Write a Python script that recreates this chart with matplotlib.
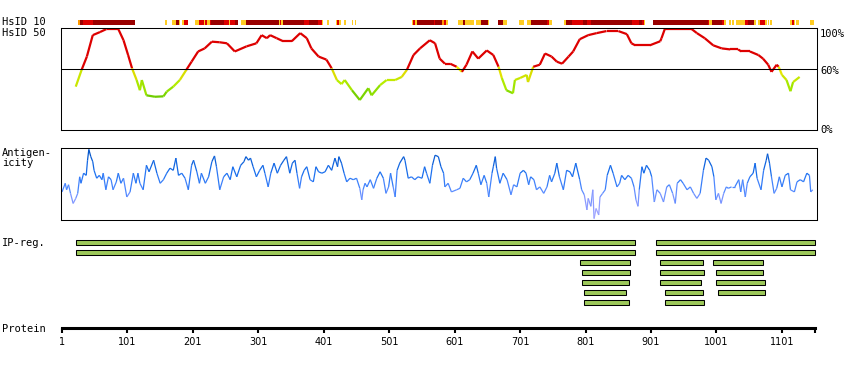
import matplotlib
matplotlib.use("Agg")
import matplotlib.pyplot as plt
import numpy as np
from matplotlib.collections import LineCollection
from matplotlib.colors import LinearSegmentedColormap

# ---------------- data ----------------
protein_length = 1152
tick_residues = [1, 101, 201, 301, 401, 501, 601, 701, 801, 901, 1001, 1101]

# HsID 10 conservation bar: segments (start, end, level) level 0=orange 1=gold 2=red 3=dark red
hs_start = [26, 28, 33, 48, 112, 158, 169, 175, 179, 185, 188, 204, 210, 218, 220, 223, 227, 229, 249, 256, 258, 265, 274, 278, 282,
            291, 332, 334, 336, 338, 370, 379, 392, 398, 406, 420, 421, 424, 432, 444, 448,
            536, 538, 541, 543, 569, 571,
            582, 584, 587, 606, 614, 617, 634, 641, 652, 667, 675, 699, 711, 718, 742, 745, 768, 771, 780, 786, 797, 803, 810,
            872, 882, 887, 890, 904, 988, 990, 994, 1009, 1012, 1020, 1025, 1031, 1044, 1049, 1059, 1064, 1067, 1075, 1080, 1083, 1085,
            1114, 1116, 1119, 1122, 1144]
hs_end = [28, 33, 48, 112, 113, 161, 175, 179, 182, 188, 193, 210, 218, 220, 223, 227, 229, 249, 256, 258, 265, 270, 277, 282, 291,
          332, 334, 336, 338, 370, 379, 392, 398, 400, 409, 421, 424, 427, 435, 446, 450,
          538, 541, 543, 569, 571, 582,
          584, 587, 590, 614, 617, 631, 641, 652, 654, 675, 681, 707, 718, 742, 745, 750, 771, 780, 786, 797, 803, 810, 872,
          882, 887, 890, 892, 988, 990, 994, 1009, 1012, 1016, 1023, 1028, 1044, 1049, 1059, 1062, 1067, 1075, 1078, 1081, 1084, 1086,
          1116, 1119, 1121, 1127, 1150]
hs_level = [0, 3, 2, 3, 0, 1, 1, 3, 1, 1, 2, 1, 2, 1, 2, 1, 2, 3, 2, 1, 2, 3, 1, 1, 3,
            3, 1, 2, 1, 3, 2, 3, 2, 1, 1, 1, 2, 1, 1, 1, 1,
            1, 2, 1, 3, 2, 3,
            0, 2, 1, 1, 3, 1, 1, 3, 1, 3, 1, 1, 1, 3, 2, 1, 1, 3, 2, 2, 3, 2, 3,
            2, 3, 2, 1, 3, 2, 1, 3, 2, 1, 1, 1, 1, 2, 3, 1, 1, 2, 1, 1, 1, 1,
            1, 2, 1, 1, 1]

# HsID 50 identity curve (residue, % identity)
id_res = [22, 31, 39, 48, 59, 69, 87, 95, 102, 108, 115, 120, 123, 130, 143, 156, 161, 171, 181, 191, 199, 209, 219, 230, 242,
          253, 265, 283, 298, 306, 314, 319, 329, 339, 352, 365, 375, 382, 393, 405, 413, 421, 428, 433, 444, 456, 469, 474,
          487, 497, 510, 520, 528, 538, 548, 563, 571, 578, 586, 594, 604, 612, 619, 628, 637, 650, 660, 668, 673, 680, 690,
          693, 701, 711, 713, 721, 731, 739, 749, 757, 765, 775, 782, 792, 805, 818, 833, 851, 864, 871, 877, 899, 915, 917,
          922, 963, 971, 983, 996, 1009, 1022, 1034, 1039, 1052, 1065, 1072, 1080, 1085, 1093, 1096, 1101, 1108, 1114, 1118, 1128]
id_val = [42.5, 59, 72, 93, 96, 99, 99, 88, 73.5, 60.5, 49, 39, 49, 34, 32.6, 33, 37.6, 42.5, 49, 59, 67, 77, 80, 86.6, 86,
          85, 77, 82, 85, 93, 90, 93, 90, 87, 87, 95, 90, 80, 72, 69, 60.5, 49, 45, 49, 39, 29.4, 41, 34,
          44, 49, 49, 52, 59, 73.5, 80, 88, 85, 70, 65, 65, 62, 57, 64, 77, 70, 78, 73.5, 62, 51, 39, 36,
          49, 51, 54, 47, 62, 64, 75, 72, 67, 65, 72, 77, 89, 93, 95, 97, 97, 94, 85, 83, 83, 87, 90,
          99, 99, 95, 90, 83, 80, 79, 79, 77, 77, 73.5, 70, 64, 57, 64, 62, 54, 49, 38, 47, 52]

# Antigenicity (residue, score 0-100)
ag_res = [1, 6, 8, 11, 14, 18, 22, 25, 28, 30, 34, 38, 40, 42, 45, 48, 50, 54, 58, 62, 64, 68, 72, 76, 79, 84, 87, 91, 95,
          100, 105, 110, 114, 117, 120, 125, 130, 134, 141, 146, 151, 156, 161, 166, 171, 175, 179, 184, 189, 194, 199, 202,
          207, 211, 214, 220, 225, 230, 234, 237, 242, 248, 253, 258, 262, 268, 274, 279, 282, 286, 289, 293, 298, 303, 308,
          311, 316, 320, 325, 330, 335, 340, 344, 349, 353, 357, 360, 364, 367, 371, 375, 380, 385, 389, 393, 398, 403, 408,
          413, 418, 422, 424, 428, 432, 436, 441, 446, 451, 456, 459, 461, 464, 467, 472, 477, 482, 487, 492, 496, 500, 503,
          507, 510, 513, 517, 523, 525, 530, 535, 540, 545, 551, 555, 558, 563, 567, 571, 576, 580, 584, 586, 591, 596, 604,
          609, 614, 619, 624, 629, 634, 637, 641, 646, 650, 653, 658, 660, 663, 665, 670, 675, 681, 687, 691, 696, 701, 706,
          710, 714, 717, 722, 726, 731, 737, 742, 746, 749, 754, 757, 761, 767, 772, 777, 781, 786, 792, 795, 799, 803, 805,
          809, 812, 814, 817, 821, 823, 827, 831, 834, 839, 843, 849, 853, 856, 861, 866, 871, 875, 878, 881, 883, 887, 890,
          894, 899, 902, 906, 910, 915, 920, 925, 929, 934, 938, 941, 946, 950, 956, 961, 966, 971, 976, 981, 985, 989, 994,
          997, 1000, 1004, 1008, 1012, 1016, 1019, 1024, 1029, 1035, 1038, 1041, 1045, 1048, 1052, 1057, 1060, 1063, 1069,
          1073, 1077, 1079, 1082, 1085, 1089, 1093, 1097, 1101, 1106, 1111, 1114, 1120, 1124, 1129, 1134, 1139, 1143, 1145, 1148]
ag_val = [39, 51, 42, 49, 37, 23, 30, 37, 60, 51, 65, 62, 83, 98, 88, 81, 69, 58, 62, 56, 65, 42, 60, 56, 42, 53, 65, 51, 58,
          32, 39, 65, 51, 65, 51, 42, 76, 67, 83, 65, 51, 56, 65, 72, 69, 86, 62, 65, 58, 42, 76, 83,
          67, 51, 65, 51, 60, 81, 89, 74, 42, 60, 65, 56, 74, 60, 76, 81, 88, 83, 86, 74, 60, 69, 76,
          65, 46, 65, 79, 65, 76, 83, 88, 65, 79, 83, 65, 44, 60, 69, 74, 56, 53, 74, 67, 65, 67, 76,
          69, 86, 74, 88, 79, 65, 53, 58, 56, 58, 44, 28, 42, 51, 46, 56, 44, 58, 67, 58, 37, 46, 65,
          46, 32, 69, 79, 88, 83, 58, 60, 56, 60, 58, 74, 65, 51, 76, 90, 88, 74, 65, 46, 51, 39, 42,
          44, 58, 53, 56, 65, 76, 65, 49, 62, 51, 32, 65, 74, 88, 72, 51, 65, 56, 35, 49, 46, 65, 69,
          65, 49, 60, 56, 42, 46, 37, 46, 62, 53, 65, 79, 60, 42, 69, 67, 60, 79, 56, 42, 35, 14, 30,
          19, 42, 2, 16, 7, 32, 37, 42, 62, 76, 65, 46, 51, 62, 56, 62, 58, 46, 28, 19, 42, 74, 65,
          76, 69, 60, 25, 42, 37, 25, 46, 49, 37, 23, 51, 56, 51, 42, 46, 37, 30, 37, 69, 86, 83, 74,
          60, 28, 37, 23, 37, 46, 44, 46, 46, 56, 39, 56, 32, 51, 60, 65, 79, 58, 42,
          69, 83, 92, 79, 60, 37, 44, 60, 46, 62, 65, 42, 39, 53, 56, 53, 65, 62, 39, 42]

# IP-reg bars: (start, end, row)
ip_start = [23, 908, 23, 908, 793, 914, 995, 796, 914, 1001, 796, 915, 1001, 799, 923, 1004, 799, 923]
ip_end = [877, 1152, 877, 1152, 869, 980, 1072, 869, 982, 1072, 867, 978, 1075, 862, 980, 1075, 867, 982]
ip_row = [0, 0, 1, 1, 2, 2, 2, 3, 3, 3, 4, 4, 4, 5, 5, 5, 6, 6]

# ---------------- figure ----------------
W, H = 850, 370
fig = plt.figure(figsize=(W / 100, H / 100), dpi=100)
MONO = "DejaVu Sans Mono"
LW = 0.75

def ax_px(x0, y0, x1, y1):
    return fig.add_axes([x0 / W, 1 - y1 / H, (x1 - x0) / W, (y1 - y0) / H])

X0, X1 = 61, 817
def res_at(px):
    return 1 + (px - 62) / 0.6545
XLIM = (res_at(X0), res_at(X1))

# HsID 10 bar
axb = ax_px(X0, 20, X1, 25)
lev_col = {0: "#ff9900", 1: "#ffcc22", 2: "#dd0000", 3: "#990000"}
for s, e, l in zip(hs_start, hs_end, hs_level):
    axb.barh(0.5, e - s, left=s, height=1, color=lev_col[l], linewidth=0)
axb.set_xlim(*XLIM); axb.set_ylim(0, 1); axb.axis("off")

# HsID 50 identity panel
axi = ax_px(X0, 28, X1, 130)
id_cmap = LinearSegmentedColormap.from_list("idg", [(0, "#55bb00"), (0.3, "#88dd00"), (0.6, "#bbee00"),
                                                     (0.85, "#dddd00"), (1, "#eeee00")])
pts = np.column_stack([id_res, id_val])
segs = np.stack([pts[:-1], pts[1:]], axis=1)
cols = []
for a, b in zip(id_val[:-1], id_val[1:]):
    m = (a + b) / 2
    if m >= 60:
        cols.append("#dd0000")
    else:
        cols.append(id_cmap(np.clip((m - 28) / 32, 0, 1)))
axi.add_collection(LineCollection(segs, colors=cols, linewidths=1.6, capstyle="butt"))
axi.axhline(60, color="black", lw=LW)
axi.set_xlim(*XLIM); axi.set_ylim(0, 100)
axi.set_xticks([]); axi.set_yticks([])
for sp in axi.spines.values():
    sp.set_linewidth(LW)
fig.text(820 / W, 1 - 29 / H, "100%", family=MONO, fontsize=7.5, va="top", ha="left")
fig.text(820 / W, 1 - 70.5 / H, "60%", family=MONO, fontsize=7.5, va="center", ha="left")
fig.text(820 / W, 1 - 130 / H, "0%", family=MONO, fontsize=7.5, va="center", ha="left")

# Antigenicity panel
axa = ax_px(X0, 148, X1, 220)
ag_cmap = LinearSegmentedColormap.from_list("ag", [(0, "#b0aaff"), (0.25, "#8899ff"), (0.45, "#4d88ff"),
                                                   (0.65, "#1a70f0"), (1, "#0050c0")])
pts = np.column_stack([ag_res, ag_val])
segs = np.stack([pts[:-1], pts[1:]], axis=1)
cols = [ag_cmap(np.clip((a + b) / 200, 0, 1)) for a, b in zip(ag_val[:-1], ag_val[1:])]
axa.add_collection(LineCollection(segs, colors=cols, linewidths=0.9))
axa.set_xlim(*XLIM); axa.set_ylim(0, 100)
axa.set_xticks([]); axa.set_yticks([])
for sp in axa.spines.values():
    sp.set_linewidth(LW)

# IP-reg bars
axp = ax_px(X0, 237.3, X1, 307.3)
for s, e, r in zip(ip_start, ip_end, ip_row):
    axp.barh(r, e - s, left=s, height=0.45, color="#9dc85a", edgecolor="black", linewidth=LW)
axp.set_xlim(*XLIM); axp.set_ylim(6.5, -0.5); axp.axis("off")

# Protein axis
axx = ax_px(X0, 318, X1, 328)
for k in ["top", "left", "right"]:
    axx.spines[k].set_visible(False)
axx.spines["bottom"].set_linewidth(2.2)
axx.spines["bottom"].set_bounds(1, protein_length)
axx.set_xlim(*XLIM); axx.set_ylim(0, 1)
axx.set_yticks([])
axx.set_xticks(tick_residues + [protein_length])
axx.set_xticklabels([str(t) for t in tick_residues] + [""])
axx.tick_params(axis="x", direction="out", length=3.5, width=1.5, pad=3, labelsize=7)
axx.patch.set_visible(False)

# Left labels
fig.text(2 / W, 1 - 22 / H, "HsID 10", family=MONO, fontsize=7.5, va="center")
fig.text(2 / W, 1 - 33.5 / H, "HsID 50", family=MONO, fontsize=7.5, va="center")
fig.text(2 / W, 1 - 153 / H, "Antigen-", family=MONO, fontsize=7.5, va="center")
fig.text(2 / W, 1 - 163 / H, "icity", family=MONO, fontsize=7.5, va="center")
fig.text(2 / W, 1 - 243.5 / H, "IP-reg.", family=MONO, fontsize=7.5, va="center")
fig.text(2 / W, 1 - 329.5 / H, "Protein", family=MONO, fontsize=7.5, va="center")

fig.savefig("out.png", dpi=100, facecolor="white")
